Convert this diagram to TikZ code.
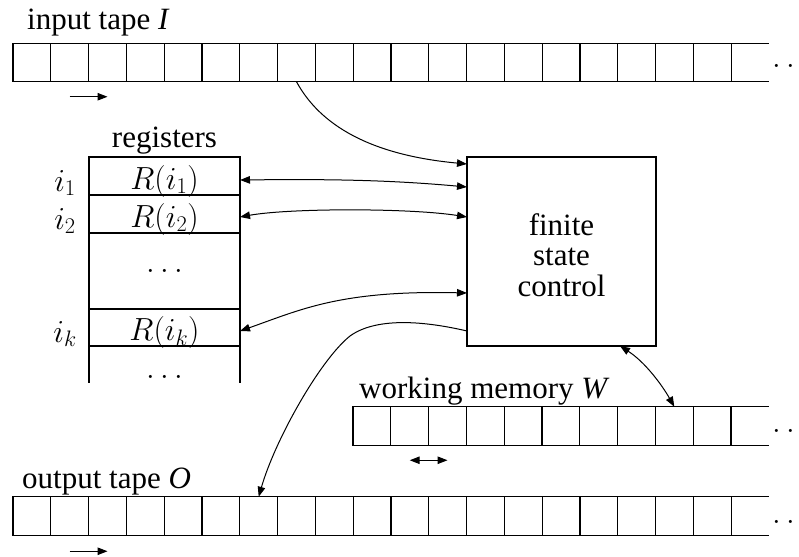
\RequirePackage{fix-cm}
\documentclass[tikz,border=0pt]{standalone}
\usepackage{fontspec}
\setmainfont{Liberation Serif}
\usetikzlibrary{arrows.meta,calc}
\tikzset{
  cell/.style={draw, line width=1.1pt, minimum width=37.8pt, minimum height=38.5pt, inner sep=0pt, outer sep=0pt},
  regbox/.style={draw, line width=1.1pt, minimum width=151pt, inner sep=0pt, outer sep=0pt},
  tapeline/.style={line width=1.1pt},
  lbl/.style={font=\fontsize{31}{30.5}\selectfont, inner sep=0pt},
  mathtxt/.style={font=\fontsize{32}{36}\selectfont, inner sep=0pt},
  conn/.style={line width=1pt},
  ahead/.tip={Triangle[length=10pt,width=7.5pt]},
}
\begin{document}
\begin{tikzpicture}[x=1pt,y=-1pt]
\useasboundingbox (0,0) rectangle (799,556);
% ---------- input tape
\foreach \i in {1,...,19} \node[cell] (in\i) at ({13+37.8*(\i-0.5)},62.5) {};
\draw[tapeline] (in19.north east) -- ++(38,0) (in19.south east) -- ++(38,0);
\node[mathtxt, anchor=base west] (indots) at (772,68) {$\ldots$};
\node[lbl, anchor=base west] (inlabel) at (27,30) {input tape \textit{I}};
\draw[conn,-ahead] ([yshift=-15pt]in2.south) -- ([yshift=-15pt]in3.south);
% ---------- registers
\node[lbl, anchor=base] (reglabel) at (164.5,147) {registers};
\node[regbox, minimum height=38pt] (reg1) at (164.5,176) {};
\node[regbox, minimum height=38pt] (reg2) at (164.5,214) {};
\node[regbox, minimum height=76pt] (regmid) at (164.5,271) {};
\node[regbox, minimum height=37pt] (regk) at (164.5,327.5) {};
\draw[tapeline] (regk.south west) -- ++(0,37) (regk.south east) -- ++(0,37);
\node[mathtxt, anchor=base] (r1txt) at ([yshift=-13pt]reg1.center) {$R(i_1)$};
\node[mathtxt, anchor=base] (r2txt) at ([yshift=-13pt]reg2.center) {$R(i_2)$};
\node[mathtxt] (rmtxt) at (regmid.center) {$\ldots$};
\node[mathtxt, anchor=base] (rktxt) at ([yshift=-13pt]regk.center) {$R(i_k)$};
\node[mathtxt] (rmore) at (164.5,377) {$\ldots$};
\node[mathtxt, anchor=base] (i1) at (65,191) {$i_1$};
\node[mathtxt, anchor=base] (i2) at (65,229) {$i_2$};
\node[mathtxt, anchor=base] (ik) at (65,342) {$i_k$};
% ---------- finite state control
\node[draw, line width=1.1pt, minimum width=189pt, minimum height=189pt, inner sep=0pt, outer sep=0pt] (fsc) at (561.5,251.5) {};
\node[lbl, align=center] (fsctext) at (561.5,255) {finite\\state\\control};
% ---------- working memory
\foreach \i in {1,...,10} \node[cell] (wm\i) at ({353+37.8*(\i-0.5)},426) {};
\draw[tapeline] (wm10.north east) -- ++(38,0) (wm10.south east) -- ++(38,0);
\node[mathtxt, anchor=base west] (wmdots) at (772,432) {$\ldots$};
\node[lbl, anchor=base west] (wmlabel) at (359,398) {working memory \textit{W}};
\draw[conn,ahead-ahead] ([yshift=-15pt]wm2.south) -- ([yshift=-15pt]wm3.south);
% ---------- output tape
\foreach \i in {1,...,19} \node[cell] (out\i) at ({13+37.8*(\i-0.5)},516) {};
\draw[tapeline] (out19.north east) -- ++(38,0) (out19.south east) -- ++(38,0);
\node[mathtxt, anchor=base west] (outdots) at (772,523) {$\ldots$};
\node[lbl, anchor=base west] (outlabel) at (22,488) {output tape \textit{O}};
\draw[conn,-ahead] ([yshift=-16pt]out2.south) -- ([yshift=-16pt]out3.south);
% ---------- connectors
\coordinate (ebend) at (350,336);
\draw[conn,-ahead] (in8.south) .. controls (320,125) and (370,155) .. ([yshift=-7pt]fsc.north west);
\draw[conn,ahead-ahead] ([yshift=-4pt]reg1.east) .. controls (330,179) and (390,180) .. ([yshift=-30pt]fsc.north west);
\draw[conn,ahead-ahead] ([yshift=-3pt]reg2.east) .. controls (290,208) and (410,208) .. ([yshift=-60pt]fsc.north west);
\draw[conn,ahead-ahead] ([yshift=-3.5pt]regk.east) .. controls (300,310) and (340,290) .. ([yshift=-136pt]fsc.north west);
\draw[conn,-ahead] ([yshift=-174pt]fsc.north west) .. controls (420,320) and (375,318) .. (ebend) .. controls (320,360) and (275,440) .. (out7.north);
\draw[conn,ahead-ahead] ([xshift=153pt]fsc.south west) .. controls (645,362) and (662,385) .. (wm9.north);
\end{tikzpicture}
\end{document}
